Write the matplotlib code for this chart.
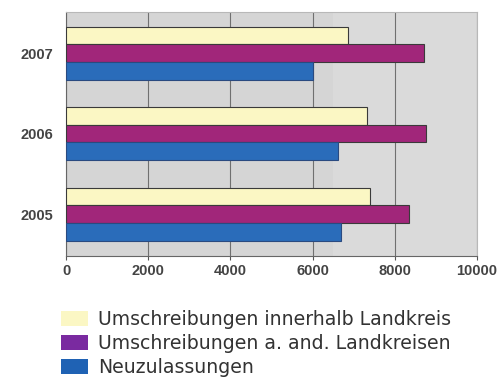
import numpy as np
import matplotlib.pyplot as plt
from matplotlib.patches import Patch

# Data
years = ["2005", "2006", "2007"]
innerhalb = [7400, 7320, 6850]
andere = [8340, 8760, 8720]
neu = [6700, 6610, 6000]
series_labels = ["Umschreibungen innerhalb Landkreis",
                 "Umschreibungen a. and. Landkreisen",
                 "Neuzulassungen"]
ticks = [0, 2000, 4000, 6000, 8000, 10000]

col_yellow = "#fbf7c4"
col_purple = "#a1267a"
col_blue = "#2a6cba"

fig = plt.figure(figsize=(5.01, 3.78), dpi=100)
ax = fig.add_axes([0.132, 0.323, 0.820, 0.645])
ax.set_facecolor("#d5d5d5")
ax.axvspan(6500, 10000, color="#dadada", zorder=0, lw=0)

y = np.arange(len(years))
h = 0.22
ax.barh(y + h, innerhalb, height=h, color=col_yellow, edgecolor="#3a3a3a", linewidth=0.8, zorder=3)
ax.barh(y, andere, height=h, color=col_purple, edgecolor="#3a3a3a", linewidth=0.8, zorder=3)
ax.barh(y - h, neu, height=h, color=col_blue, edgecolor="#2a4a80", linewidth=0.8, zorder=3)

ax.set_xlim(0, 10000)
ax.set_ylim(-0.52, 2.51)
ax.set_xticks(ticks)
ax.set_xticklabels([str(t) for t in ticks], fontsize=10.5, family="Liberation Sans",
                   fontweight="bold", color="#444444")
ax.set_yticks(y)
ax.set_yticklabels(years, fontsize=10.5, family="Liberation Sans",
                   fontweight="bold", color="#444444")
ax.tick_params(axis="x", length=3, color="#555555", pad=3)
ax.tick_params(axis="y", length=0, pad=9.5)
ax.grid(axis="x", color="#707070", linewidth=0.8, zorder=1)
for s in ["top", "right"]:
    ax.spines[s].set_color("#b8b8b8")
for s in ["left", "bottom"]:
    ax.spines[s].set_color("#666666")

# Legend below, partly cut off at the bottom like the original
handles = [Patch(facecolor=col_yellow, edgecolor="none"),
           Patch(facecolor="#7a2aa0", edgecolor="none"),
           Patch(facecolor="#1f62b4", edgecolor="none")]
fig.legend(handles, series_labels, loc="upper left", bbox_to_anchor=(0.122, 0.180),
           frameon=False, prop={"family": "DejaVu Sans", "size": 13.6},
           handlelength=1.44, handleheight=0.8, handletextpad=0.5, labelspacing=0.27,
           borderaxespad=0, borderpad=0, labelcolor="#333333")

fig.savefig("out.png", dpi=100)
